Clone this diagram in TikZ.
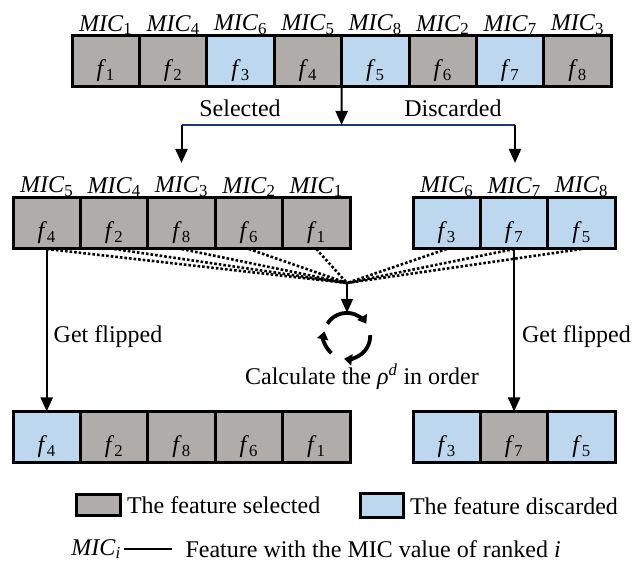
\documentclass[tikz,border=0pt]{standalone}
\usepackage{fontspec}
\setmainfont{Liberation Serif}
\usetikzlibrary{positioning,arrows.meta}
\definecolor{selgray}{RGB}{176,172,170}
\definecolor{disblue}{RGB}{189,215,238}
\definecolor{splitblue}{RGB}{31,56,120}
\newcommand{\fe}[1]{\textit{f}\textsubscript{#1}}
\newcommand{\mic}[1]{\textit{MIC}\textsubscript{#1}}

\begin{document}
\begin{tikzpicture}[x=1pt,y=1pt,
  every node/.style={font=\fontsize{24}{28}\selectfont},
  cell/.style={draw,line width=3pt,minimum width=67.4pt,minimum height=51pt,inner sep=0pt,outer sep=0pt,text height=41pt,text depth=10pt},
  sel/.style={cell,fill=selgray},
  dis/.style={cell,fill=disblue},
  mic/.style={inner sep=1pt},
  keybox/.style={draw,line width=3pt,inner sep=0pt},
  arr/.style={-{Triangle[width=12pt,length=14pt]},line width=2pt},
  dots/.style={line width=2.6pt,dash pattern=on 2.6pt off 2pt},
  cycarr/.style={-{Triangle[width=11pt,length=8pt]},line width=3.8pt}
]
\useasboundingbox (0,0) rectangle (633,-569);

% ranked features
\node[sel,label={[mic]above:\mic{1}}] (top1) at (105.7,-61.5) {\fe{1}};
\node[sel,right=0pt of top1,label={[mic]above:\mic{4}}] (top2) {\fe{2}};
\node[dis,right=0pt of top2,label={[mic]above:\mic{6}}] (top3) {\fe{3}};
\node[sel,right=0pt of top3,label={[mic]above:\mic{5}}] (top4) {\fe{4}};
\node[dis,right=0pt of top4,label={[mic]above:\mic{8}}] (top5) {\fe{5}};
\node[sel,right=0pt of top5,label={[mic]above:\mic{2}}] (top6) {\fe{6}};
\node[dis,right=0pt of top6,label={[mic]above:\mic{7}}] (top7) {\fe{7}};
\node[sel,right=0pt of top7,label={[mic]above:\mic{3}}] (top8) {\fe{8}};

% split
\coordinate (split) at (341.6,-125);
\coordinate (splitl) at (181.5,-125);
\coordinate (splitr) at (515,-125);
\coordinate (seltip) at (181.5,-163);
\coordinate (distip) at (515,-163);
\draw[line width=1.8pt,splitblue] (splitl) -- (splitr);
\draw[arr] (top4.south east) -- (split);
\draw[arr] (splitl) -- (seltip);
\draw[arr] (splitr) -- (distip);
\node (selected) at (240,-108) {Selected};
\node (discarded) at (453,-108) {Discarded};

% selected and discarded sets
\node[sel,label={[mic]above:\mic{5}}] (sel1) at (46.7,-223.5) {\fe{4}};
\node[sel,right=0pt of sel1,label={[mic]above:\mic{4}}] (sel2) {\fe{2}};
\node[sel,right=0pt of sel2,label={[mic]above:\mic{3}}] (sel3) {\fe{8}};
\node[sel,right=0pt of sel3,label={[mic]above:\mic{2}}] (sel4) {\fe{6}};
\node[sel,right=0pt of sel4,label={[mic]above:\mic{1}}] (sel5) {\fe{1}};
\node[dis,label={[mic]above:\mic{6}}] (dis1) at (446.7,-223.5) {\fe{3}};
\node[dis,right=0pt of dis1,label={[mic]above:\mic{7}}] (dis2) {\fe{7}};
\node[dis,right=0pt of dis2,label={[mic]above:\mic{8}}] (dis3) {\fe{5}};

% correlation
\coordinate (conv) at (347,-283);
\draw[dots] (sel1.south) -- (conv);
\draw[dots] (sel2.south) -- (conv);
\draw[dots] (sel3.south) -- (conv);
\draw[dots] (sel4.south) -- (conv);
\draw[dots] (sel5.south) -- (conv);
\draw[dots] (dis1.south) -- (conv);
\draw[dots] (dis2.south) -- (conv);
\draw[dots] (dis3.south) -- (conv);
\node[circle,minimum size=46pt,inner sep=0pt] (cycle) at (347,-336) {};
\draw[arr] (conv) -- (cycle.north);
\draw[cycarr] (cycle.148) arc[start angle=148,end angle=32,radius=23pt];
\draw[cycarr] (cycle.2) arc[start angle=2,end angle=-98,radius=23pt];
\draw[cycarr] (cycle.228) arc[start angle=228,end angle=168,radius=23pt];
\node (calc) at (362,-377) {Calculate the \textit{ρ}\textsuperscript{\textit{d}} in order};

% flipping
\node (flipl) at (108,-337) {Get flipped};
\node[anchor=east,inner sep=1pt] (flipr) at (632,-337) {Get flipped};
\node[dis] (fsel1) at (46.7,-437) {\fe{4}};
\node[sel,right=0pt of fsel1] (fsel2) {\fe{2}};
\node[sel,right=0pt of fsel2] (fsel3) {\fe{8}};
\node[sel,right=0pt of fsel3] (fsel4) {\fe{6}};
\node[sel,right=0pt of fsel4] (fsel5) {\fe{1}};
\node[dis] (fdis1) at (446.7,-437) {\fe{3}};
\node[sel,right=0pt of fdis1] (fdis2) {\fe{7}};
\node[dis,right=0pt of fdis2] (fdis3) {\fe{5}};
\draw[arr] (sel1.south) -- (fsel1.north);
\draw[arr] (dis2.south) -- (fdis2.north);

% legend
\node[keybox,fill=selgray,minimum width=44pt,minimum height=21pt] (keysel) at (98,-505.5) {};
\node[right=2pt of keysel] (keyseltext) {The feature selected};
\node[keybox,fill=disblue,minimum width=43pt,minimum height=24pt] (keydis) at (381.5,-506) {};
\node[right=2pt of keydis] (keydistext) {The feature discarded};
\node (mici) at (96,-549) {\mic{\textit{i}}};
\node[anchor=west] (micdef) at (182,-549) {Feature with the MIC value of ranked \textit{i}};
\draw[line width=1.2pt,shorten >=10pt] (mici.east) -- (micdef.west);
\end{tikzpicture}
\end{document}
